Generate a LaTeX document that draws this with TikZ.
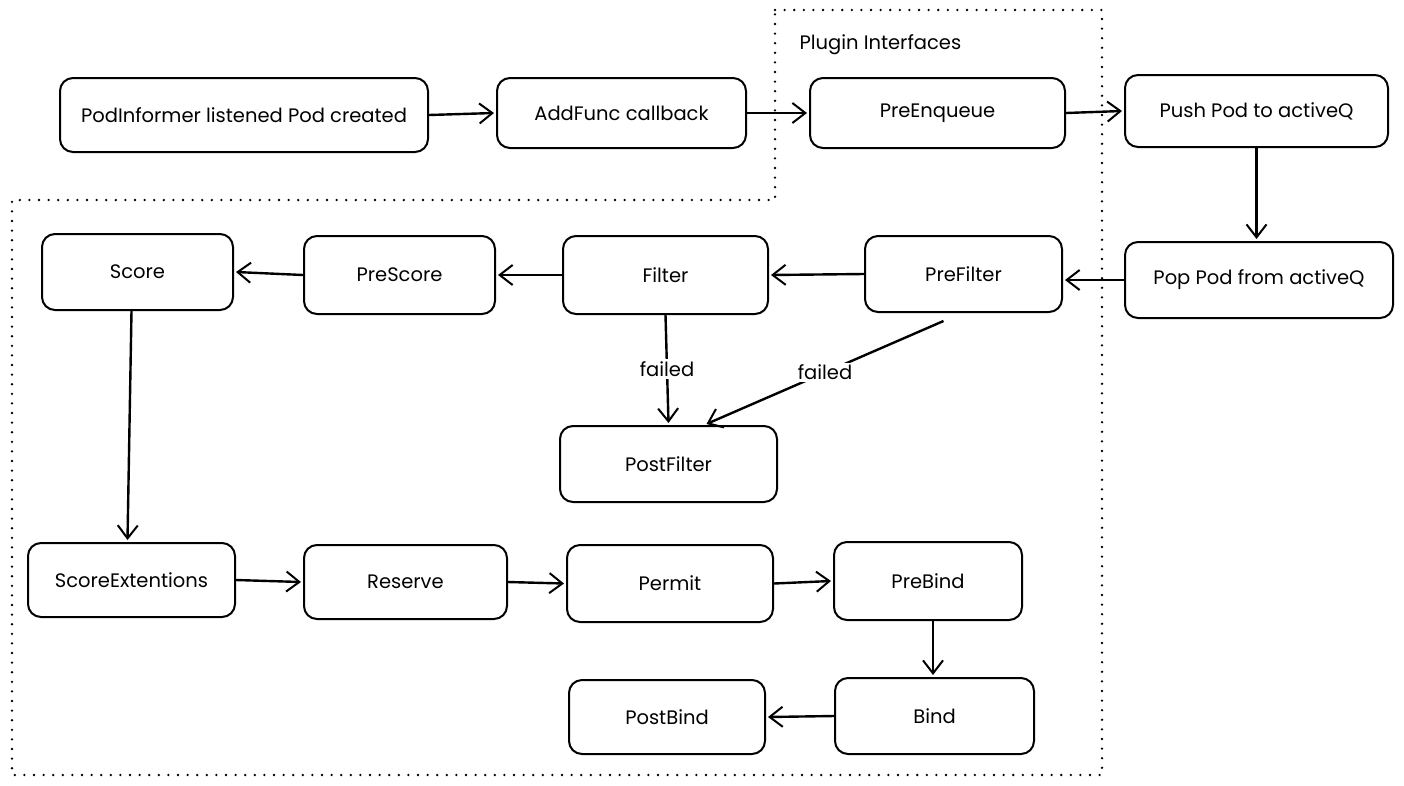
\documentclass[tikz,border=0pt]{standalone}
\usepackage{fontspec}
\setmainfont{Poppins}
\usetikzlibrary{arrows.meta}
\tikzset{
  box/.style={draw, line width=2pt, rounded corners=13pt, inner sep=0pt, align=center, font=\fontsize{19.5}{22}\selectfont},
  conn/.style={draw, line width=2.4pt, -{Straight Barb[length=13pt,width=20pt,line width=2pt]}},
  lbl/.style={fill=white, inner sep=2pt, font=\fontsize{19.5}{22}\selectfont},
  region/.style={draw, line width=2.6pt, line cap=round, dash pattern=on 0pt off 9.6pt},
}
\begin{document}
\begin{tikzpicture}[x=1pt,y=-1pt]
\useasboundingbox (0,0) rectangle (1404,785);
% dotted region
\draw[region] (775,10) -- (1102,10) -- (1102,775) -- (12,775) -- (12,200) -- (775,200) -- cycle;
\node[anchor=west, font=\fontsize{19.5}{22}\selectfont] (title) at (796,45) {Plugin Interfaces};
% nodes
\node[box, minimum width=368pt, minimum height=74pt] (pod) at (244,115) {PodInformer listened Pod created};
\node[box, minimum width=249pt, minimum height=70pt] (add) at (621.5,113) {AddFunc callback};
\node[box, minimum width=255pt, minimum height=70pt] (preenq) at (937.5,113) {PreEnqueue};
\node[box, minimum width=263pt, minimum height=72pt] (push) at (1256.5,111) {Push Pod to activeQ};
\node[box, minimum width=268pt, minimum height=76pt] (pop) at (1259,280) {Pop Pod from activeQ};
\node[box, minimum width=197pt, minimum height=76pt] (prefilter) at (963.5,274) {PreFilter};
\node[box, minimum width=205pt, minimum height=78pt] (filter) at (665.5,275) {Filter};
\node[box, minimum width=191pt, minimum height=78pt] (prescore) at (399.5,275) {PreScore};
\node[box, minimum width=191pt, minimum height=76pt] (score) at (137.5,272) {Score};
\node[box, minimum width=217pt, minimum height=76pt] (postfilter) at (668.5,464) {PostFilter};
\node[box, minimum width=207pt, minimum height=74pt] (scoreext) at (131.5,580) {ScoreExtentions};
\node[box, minimum width=203pt, minimum height=74pt] (reserve) at (405.5,582) {Reserve};
\node[box, minimum width=206pt, minimum height=77pt] (permit) at (670,583.5) {Permit};
\node[box, minimum width=188pt, minimum height=78pt] (prebind) at (928,581) {PreBind};
\node[box, minimum width=199pt, minimum height=76pt] (bind) at (934.5,716) {Bind};
\node[box, minimum width=196pt, minimum height=74pt] (postbind) at (667,717) {PostBind};
% connectors
\draw[conn] (pod.east) -- ([xshift=-2pt]add.west);
\draw[conn] (add.east) -- ([xshift=-2pt]preenq.west);
\draw[conn] (preenq.east) -- ([xshift=-2pt]push.west);
\draw[conn] (push.south) -- ([yshift=2pt]push.south |- pop.north);
\draw[conn] (pop.west) -- ([xshift=2pt,yshift=-6pt]prefilter.east);
\draw[conn] (prefilter.west) -- ([xshift=2pt]filter.east);
\draw[conn] (filter.west) -- ([xshift=2pt]prescore.east);
\draw[conn] (prescore.west) -- ([xshift=2pt]score.east);
\draw[conn] ([xshift=-6pt]score.south) -- ([yshift=2pt,xshift=-4pt]scoreext.north);
\draw[conn] (filter.south) -- ([yshift=2pt]postfilter.north) node[lbl, pos=0.5] (f1) {failed};
\draw[conn] ([xshift=-20pt,yshift=-8pt]prefilter.south) -- ([xshift=38pt,yshift=1pt]postfilter.north) node[lbl, pos=0.5] (f2) {failed};
\draw[conn] (scoreext.east) -- ([xshift=-2pt]reserve.west);
\draw[conn] (reserve.east) -- ([xshift=-2pt]permit.west);
\draw[conn] (permit.east) -- ([xshift=-2pt]prebind.west);
\draw[conn] ([xshift=5pt]prebind.south) -- ([xshift=-1.5pt,yshift=2pt]bind.north);
\draw[conn] (bind.west) -- ([xshift=2pt]postbind.east);
\end{tikzpicture}
\end{document}
